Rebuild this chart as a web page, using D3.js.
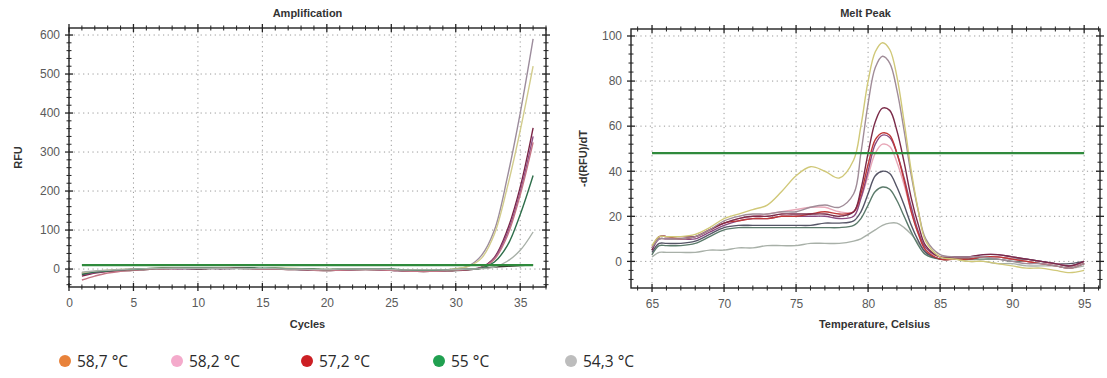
<!DOCTYPE html>
<html>
<head>
<meta charset="utf-8">
<script src="https://cdn.jsdelivr.net/npm/d3@7/dist/d3.min.js"></script>
<style>
  body { margin: 0; background: #fff; }
  svg { display: block; }
  .lbl { font-family: Arial, "Liberation Sans", sans-serif; font-size: 12px; fill: #5a5a5a; }
  .ttl { font-family: Arial, "Liberation Sans", sans-serif; font-size: 11px; font-weight: bold; fill: #333; }
  .leg { font-family: "Open Sans", "Noto Sans", sans-serif; font-size: 15.5px; fill: #2a2a2a; }
</style>
</head>
<body>
<svg width="1107" height="378"></svg>
<script>
// ---- amplification data
const cycles = [1,2,3,4,5,6,7,8,9,10,11,12,13,14,15,16,17,18,19,20,21,22,23,24,25,26,27,28,29,30,31,32,33,34,35,36];
const ampSeries = [
  { color: '#3a2a2a', values: [-10,-7,-5,-4,-3,-1,0,1,1,0,1,1,2,1,0,0,-1,-2,-3,-4,-3,-2,-1,-2,-3,-5,-6,-6,-5,-4,-2,2,5,7,9,11] },
  { color: '#9c8c9c', values: [-12,-7,-4,-2,0,1,2,2,1,1,2,3,2,1,1,2,1,0,-1,-2,-1,0,1,0,-1,-3,-4,-4,-3,0,8,35,100,235,400,590] },
  { color: '#d2cc8c', values: [-10,-6,-3,-1,0,1,2,3,2,2,3,3,2,2,1,2,2,1,0,-1,0,1,1,0,-1,-2,-3,-3,-2,1,7,28,90,210,355,520] },
  { color: '#7a2444', values: [-18,-10,-6,-3,-1,0,1,2,2,1,2,2,3,2,1,1,1,0,-2,-3,-2,-1,0,-1,-2,-4,-5,-5,-4,-3,-1,5,30,100,210,362] },
  { color: '#8e4e86', values: [-15,-9,-5,-3,-1,0,1,1,1,2,2,1,2,2,1,1,0,-1,-2,-3,-2,-1,0,-1,-3,-4,-5,-5,-4,-2,0,4,28,92,198,340] },
  { color: '#c47484', values: [-28,-18,-10,-6,-3,-1,0,1,2,2,3,2,2,1,0,0,-1,-1,-3,-4,-3,-2,-1,-2,-3,-5,-6,-6,-5,-3,-1,3,25,85,190,325] },
  { color: '#2e6e4a', values: [-14,-8,-5,-2,-1,1,2,2,3,3,3,2,2,3,2,2,1,1,0,-1,0,0,1,1,0,-2,-3,-3,-2,-1,0,2,18,60,140,240] },
  { color: '#a8b0a8', values: [-8,-5,-3,-1,0,1,1,2,2,2,2,2,1,1,1,1,0,0,-1,-1,0,0,0,0,-1,-2,-2,-2,-2,-1,0,1,5,20,48,95] }
];
const ampThreshold = 10;
const ampXTicks = [0,5,10,15,20,25,30,35];
const ampYTicks = [0,100,200,300,400,500,600];

// ---- melt peak data
const temps = [65,65.5,66,67,68,69,70,71,72,73,74,75,76,77,78,79,79.5,80,80.5,81,81.5,82,82.5,83,83.5,84,85,86,87,88,89,90,91,92,93,94,95];
const meltSeries = [
  { color: '#a8b0a8', values: [2,4,4,4,4,5,5,6,6,7,7,7,8,8,8,9,10,12,14,16,17,17,15,12,8,4,1,1,0,0,-1,-1,-2,-2,-2,-3,-2] },
  { color: '#5a7a6a', values: [3,7,7,7,8,11,14,15,15,15,15,15,15,15,15,16,19,25,31,33,32,27,20,13,7,3,1,1,1,1,1,0,0,-1,-1,-2,-1] },
  { color: '#555566', values: [4,8,8,8,9,12,15,16,16,16,16,16,16,17,17,18,22,30,38,40,39,33,25,16,9,4,1,1,1,2,2,1,1,0,-1,-1,0] },
  { color: '#e8a8b8', values: [6,10,10,10,11,14,17,19,20,21,22,23,24,24,22,22,28,38,48,52,51,44,34,22,12,5,2,2,2,2,2,1,0,-1,-1,-2,-1] },
  { color: '#8a4a80', values: [5,10,10,10,10,13,16,18,19,19,20,20,20,20,19,20,28,40,52,56,55,48,37,24,13,6,2,2,2,3,3,2,1,0,-1,-2,0] },
  { color: '#c03838', values: [6,11,11,10,11,14,17,18,19,19,20,20,21,22,21,22,30,43,54,57,56,48,36,22,12,5,1,1,1,2,2,1,0,-1,-2,-3,-1] },
  { color: '#7a2a48', values: [5,11,11,11,11,14,17,19,20,20,21,21,21,21,20,22,32,48,62,68,67,58,44,28,16,7,2,2,2,3,3,2,1,0,-1,-2,0] },
  { color: '#a08c98', values: [6,10,10,10,11,14,18,20,21,21,22,22,24,25,24,30,48,70,86,91,88,76,58,38,22,10,3,2,2,2,1,0,-1,-1,-2,-3,-1] },
  { color: '#d0c878', values: [7,11,11,11,12,15,19,21,23,25,31,38,42,40,37,45,60,80,93,97,94,82,62,40,22,9,2,1,0,0,-1,-2,-3,-3,-4,-5,-4] }
];
const meltThreshold = 48;
const meltXTicks = [65,70,75,80,85,90,95];
const meltYTicks = [0,20,40,60,80,100];

// ---- legend
const legendLabels = ['58,7 °C', '58,2 °C', '57,2 °C', '55 °C', '54,3 °C'];
const legendColors = ['#e8823a', '#f4aacb', '#cc1f24', '#20a050', '#bdbdbd'];

const svg = d3.select('svg');

function drawPanel(cfg) {
  const g = svg.append('g');
  const x = cfg.x, y = cfg.y;
  const [x0, x1] = x.range();
  const [y0, y1] = y.range();

  // dotted grid
  g.selectAll('.gx').data(cfg.xTicks).enter().append('line')
    .attr('x1', d => x(d)).attr('x2', d => x(d)).attr('y1', y0).attr('y2', y1)
    .attr('stroke', '#999').attr('stroke-dasharray', '1.2,3.5');
  g.selectAll('.gy').data(cfg.yTicks).enter().append('line')
    .attr('x1', x0).attr('x2', x1).attr('y1', d => y(d)).attr('y2', d => y(d))
    .attr('stroke', '#999').attr('stroke-dasharray', '1.2,3.5');

  // curves
  const line = d3.line()
    .x((d, i) => x(cfg.xs[i]))
    .y(d => y(d))
    .curve(d3.curveCatmullRom);
  g.selectAll('.curve').data(cfg.series).enter().append('path')
    .attr('d', d => line(d.values))
    .attr('fill', 'none')
    .attr('stroke', d => d.color)
    .attr('stroke-width', 1.4);

  // threshold
  g.append('line')
    .attr('x1', x(cfg.thrFrom)).attr('x2', x(cfg.thrTo))
    .attr('y1', y(cfg.threshold)).attr('y2', y(cfg.threshold))
    .attr('stroke', '#2f8a3c').attr('stroke-width', 2.2);

  // frame
  g.append('rect')
    .attr('x', x0).attr('y', y1).attr('width', x1 - x0).attr('height', y0 - y1)
    .attr('fill', 'none').attr('stroke', '#222').attr('stroke-width', 1.4);

  // crossing ticks on all four sides
  const minorX = d3.range(cfg.minorX[0], cfg.minorX[1] + 1e-9, cfg.minorX[2]);
  const minorY = d3.range(cfg.minorY[0], cfg.minorY[1] + 1e-9, cfg.minorY[2]);
  const isMajor = (arr, v) => arr.some(t => Math.abs(t - v) < 1e-6);
  [y0, y1].forEach(yy => {
    g.selectAll(null).data(minorX).enter().append('line')
      .attr('x1', d => x(d)).attr('x2', d => x(d))
      .attr('y1', d => yy - (isMajor(cfg.xTicks, d) ? 4 : 2.5))
      .attr('y2', d => yy + (isMajor(cfg.xTicks, d) ? 4 : 2.5))
      .attr('stroke', '#222').attr('stroke-width', d => isMajor(cfg.xTicks, d) ? 1.3 : 1);
  });
  [x0, x1].forEach(xx => {
    g.selectAll(null).data(minorY).enter().append('line')
      .attr('y1', d => y(d)).attr('y2', d => y(d))
      .attr('x1', d => xx - (isMajor(cfg.yTicks, d) ? 4 : 2.5))
      .attr('x2', d => xx + (isMajor(cfg.yTicks, d) ? 4 : 2.5))
      .attr('stroke', '#222').attr('stroke-width', d => isMajor(cfg.yTicks, d) ? 1.3 : 1);
  });

  // tick labels via axes
  const ax = g.append('g').attr('transform', `translate(0,${y0 + 8})`)
    .call(d3.axisBottom(x).tickValues(cfg.xTicks).tickSize(0).tickPadding(3));
  const ay = g.append('g').attr('transform', `translate(${x0 - 7},0)`)
    .call(d3.axisLeft(y).tickValues(cfg.yTicks).tickSize(0).tickPadding(2));
  [ax, ay].forEach(a => {
    a.select('.domain').remove();
    a.selectAll('text').attr('class', 'lbl').attr('font-family', null).attr('font-size', null).attr('fill', null);
  });

  // titles
  g.append('text').attr('class', 'ttl').attr('x', (x0 + x1) / 2).attr('y', 17)
    .attr('text-anchor', 'middle').text(cfg.title);
  g.append('text').attr('class', 'ttl').attr('x', (x0 + x1) / 2 + cfg.xLabelShift).attr('y', 328)
    .attr('text-anchor', 'middle').text(cfg.xLabel);
  g.append('text').attr('class', 'ttl')
    .attr('transform', `translate(${cfg.yLabelX},${(y0 + y1) / 2}) rotate(-90)`)
    .attr('text-anchor', 'middle').text(cfg.yLabel);
}

drawPanel({
  x: d3.scaleLinear().domain([0, 37]).range([69, 546]),
  y: d3.scaleLinear().domain([-46, 618]).range([287, 28]),
  xs: cycles, series: ampSeries,
  threshold: ampThreshold, thrFrom: 1, thrTo: 36,
  xTicks: ampXTicks, yTicks: ampYTicks,
  minorX: [0, 37, 1], minorY: [-40, 600, 20],
  title: 'Amplification', xLabel: 'Cycles', xLabelShift: 0,
  yLabel: 'RFU', yLabelX: 22
});

drawPanel({
  x: d3.scaleLinear().domain([63.54, 96.1]).range([631, 1100]),
  y: d3.scaleLinear().domain([-11.8, 103.1]).range([288, 29]),
  xs: temps, series: meltSeries,
  threshold: meltThreshold, thrFrom: 65, thrTo: 95,
  xTicks: meltXTicks, yTicks: meltYTicks,
  minorX: [64, 96, 1], minorY: [-8, 100, 4],
  title: 'Melt Peak', xLabel: 'Temperature, Celsius', xLabelShift: 9,
  yLabel: '-d(RFU)/dT', yLabelX: 587
});

// legend (item slots as an ordinal layout scale)
const legX = d3.scaleOrdinal().domain(legendLabels).range([65, 177, 307, 439, 571]);
const leg = svg.append('g').selectAll('g').data(legendLabels).enter().append('g')
  .attr('transform', d => `translate(${legX(d)},361)`);
leg.append('circle').attr('r', 6).attr('fill', (d, i) => legendColors[i]);
leg.append('text').attr('class', 'leg').attr('x', 12).attr('y', 5.5).text(d => d);
</script>
</body>
</html>
